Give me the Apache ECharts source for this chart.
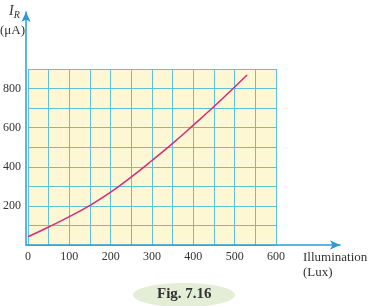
<!DOCTYPE html>
<html lang="en">
<head>
    <meta charset="UTF-8">
    <title>Fig. 7.16</title>
    <style>
        html, body { margin: 0; padding: 0; background: #fff; }
        #chart { width: 370px; height: 306px; }
    </style>
</head>
<body>
    <div id="chart"></div>
</body>
<script src="https://cdn.jsdelivr.net/npm/echarts@6/dist/echarts.min.js"></script>
<script type="text/javascript">
    // illumination (Lux) vs reverse current (uA)
    var illum = [0, 50, 100, 150, 200, 250, 300, 350, 400, 450, 500, 530];
    var current = [42, 92, 145, 203, 270, 348, 432, 520, 613, 708, 808, 869];
    var xTicks = [0, 100, 200, 300, 400, 500, 600];
    var yTicks = [200, 400, 600, 800];

    var serif = '"Liberation Serif", "DejaVu Serif", serif';
    var gridColor = '#5fc2d9';
    var axisBlue = '#2a9ad6';

    var points = illum.map(function (x, i) { return [x, current[i]]; });

    var myChart = echarts.init(document.getElementById('chart'));
    myChart.setOption({
        animation: false,
        grid: [{
            // plotting area with the yellow graph paper
            left: 26, right: 94, top: 69, bottom: 61,
            show: true, backgroundColor: '#fdf8d3', borderWidth: 0
        }, {
            // outer axes with arrows
            left: 26, right: 30, top: 12, bottom: 61
        }],
        xAxis: [{
            type: 'value', gridIndex: 0, min: 0, max: 600, interval: 50,
            axisLine: { show: false }, axisTick: { show: false },
            splitLine: { lineStyle: { color: gridColor, width: 1 } },
            axisLabel: {
                margin: 6, color: '#333', fontFamily: serif, fontSize: 12,
                formatter: function (v) { return xTicks.indexOf(v) >= 0 ? String(v) : ''; }
            }
        }, {
            type: 'value', gridIndex: 1, min: 0, max: 1,
            axisLine: { show: true, symbol: ['none', 'arrow'], symbolSize: [7, 10], lineStyle: { color: axisBlue, width: 1.5 } },
            axisTick: { show: false }, axisLabel: { show: false }, splitLine: { show: false }
        }],
        yAxis: [{
            type: 'value', gridIndex: 0, min: 0, max: 900, interval: 100,
            axisLine: { show: false }, axisTick: { show: false },
            splitLine: { lineStyle: { color: gridColor, width: 1 } },
            axisLabel: {
                margin: 7, color: '#333', fontFamily: serif, fontSize: 12,
                formatter: function (v) { return yTicks.indexOf(v) >= 0 ? String(v) : ''; }
            }
        }, {
            type: 'value', gridIndex: 1, min: 0, max: 1,
            axisLine: { show: true, symbol: ['none', 'arrow'], symbolSize: [7, 10], lineStyle: { color: axisBlue, width: 1.5 } },
            axisTick: { show: false }, axisLabel: { show: false }, splitLine: { show: false }
        }],
        series: [{
            type: 'line',
            xAxisIndex: 0, yAxisIndex: 0,
            smooth: true,
            showSymbol: false,
            lineStyle: { color: '#d62a7e', width: 1.5 },
            data: points
        }],
        graphic: [
            {
                type: 'text', left: 9, top: 4,
                style: {
                    text: '{i|I}{s|R}', fill: '#333',
                    rich: {
                        i: { fontFamily: serif, fontStyle: 'italic', fontSize: 14 },
                        s: { fontFamily: serif, fontStyle: 'italic', fontSize: 10, padding: [8, 0, 0, 0] }
                    }
                }
            },
            {
                type: 'text', left: 0, top: 24,
                style: { text: '(μA)', fill: '#333', font: '13px ' + serif }
            },
            {
                type: 'text', left: 303, top: 250,
                style: { text: 'Illumination\n(Lux)', fill: '#333', font: '13px ' + serif, align: 'center', lineHeight: 15 }
            },
            {
                type: 'ellipse', shape: { cx: 184, cy: 295, rx: 51, ry: 12 },
                style: { fill: '#e4eed6' }
            },
            {
                type: 'text', left: 157, top: 287,
                style: { text: 'Fig. 7.16', fill: '#333', font: 'bold 15px ' + serif }
            }
        ]
    });
</script>
</html>
